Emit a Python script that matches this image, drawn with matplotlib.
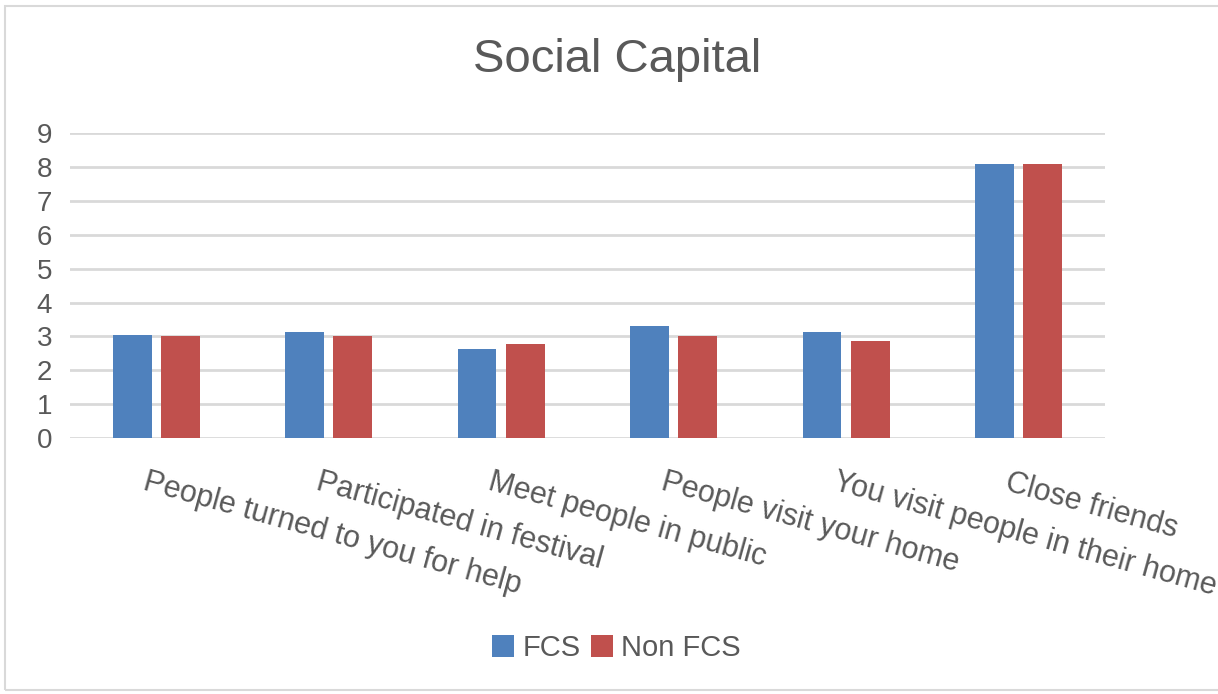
import matplotlib.pyplot as plt
import numpy as np
from matplotlib.patches import Rectangle

plt.rcParams['font.family'] = ['Liberation Sans', 'DejaVu Sans']

# Datos
categories = ['People turned to you for help', 'Participated in festival',
              'Meet people in public', 'People visit your home',
              'You visit people in their home', 'Close friends']
fcs = [3.04, 3.12, 2.62, 3.31, 3.12, 8.1]
non_fcs = [3.0, 3.0, 2.77, 3.01, 2.87, 8.1]
yticks = list(range(0, 10))

blue = '#4F81BD'
red = '#C0504D'
grey = '#595959'

fig = plt.figure(figsize=(12.18, 6.94), dpi=100)
ax = fig.add_axes([0.0575, 0.369, 0.8495, 0.439])

x = np.arange(len(categories))
w = 0.225
ax.bar(x - 0.14, fcs, w, color=blue, label='FCS', zorder=3)
ax.bar(x + 0.14, non_fcs, w, color=red, label='Non FCS', zorder=3)

ax.set_xlim(-0.5, len(categories) - 0.5)
ax.set_ylim(0, 9)
ax.set_yticks(yticks)
ax.yaxis.grid(True, color='#D9D9D9', lw=2, zorder=0)
ax.tick_params(axis='y', length=0, pad=13, labelsize=20, labelcolor=grey)
ax.tick_params(axis='x', length=0)
ax.set_xticks([])
for s in ax.spines.values():
    s.set_visible(False)

# Etiquetas inclinadas de las categorías
for i, c in enumerate(categories):
    ax.annotate(c, xy=(i, 0), xycoords=('data', 'axes fraction'),
                xytext=(-12, -44), textcoords='offset pixels',
                rotation=-15.5, rotation_mode='anchor', ha='left', va='center',
                fontsize=22, color=grey, annotation_clip=False)

fig.text(0.507, 0.913, 'Social Capital', ha='center', va='center',
         fontsize=34, color=grey)

leg = fig.legend(loc='center', bbox_to_anchor=(0.506, 0.066), ncol=2,
                 frameon=False, fontsize=21, handlelength=0.75, handleheight=0.75,
                 handletextpad=0.3, columnspacing=0.35)
for t in leg.get_texts():
    t.set_color(grey)

# Marco del gráfico
fig.add_artist(Rectangle((0.004, 0.006), 1.1, 0.986, transform=fig.transFigure,
                         fill=False, edgecolor='#D9D9D9', lw=1.5))

fig.savefig('out.png', dpi=100)
